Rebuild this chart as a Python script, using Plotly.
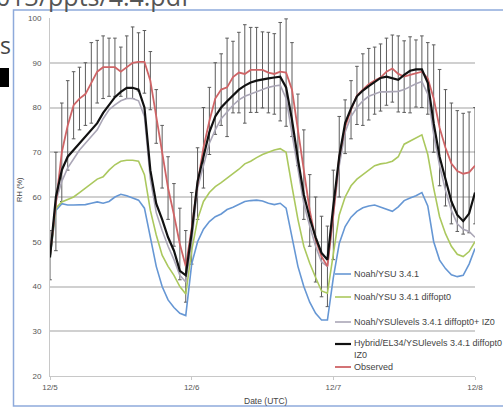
import plotly.graph_objects as go

# ---------------- data (hourly, 12/5 00 UTC .. 12/8 00 UTC) ----------------
hours = list(range(73))
day_ticks = [0, 24, 48, 72]
day_labels = ["12/5", "12/6", "12/7", "12/8"]
y_ticks = [20, 30, 40, 50, 60, 70, 80, 90, 100]

observed = [47, 59, 70, 76, 80.5, 82, 83, 85.5, 88, 89, 89, 89,
            88, 89, 90, 90.2, 90.2, 86, 78, 69, 62, 56, 49.5, 44.5,
            53, 63, 71, 77, 82, 84, 84.5, 86.8, 87.8, 87.5, 88.4, 88.4,
            88.4, 87.8, 87.5, 88, 87.8, 84, 75, 65, 57, 50.5, 46.7, 44.5,
            56, 69, 75.7, 79.5, 82.7, 84, 85.2, 86, 86.7, 88, 88.7, 87.5,
            86.9, 87.3, 87.6, 88, 86.5, 82, 75.5, 71, 67.5, 65.8, 65.2, 65.5,
            67]
obs_err = [5.5, 11, 11, 10, 7.5, 7, 7, 9, 7, 7, 6.5, 6.5,
           5.5, 7, 8, 6.5, 7, 6.5, 6, 7, 7, 7, 8, 8,
           8, 8, 9, 7.5, 8, 8, 11, 8, 9, 11, 9.5, 9.5,
           8.5, 9, 9, 11, 12, 10.5, 8, 10, 8, 9.5, 9, 9,
           10, 9, 6, 6.5, 6.5, 8, 8, 7.5, 7.5, 7.5, 7.5, 8.5,
           8, 8.5, 7.5, 8, 8, 12, 13, 13, 13.5, 13.5, 13.5, 13.5,
           13]
hybrid = [46.5, 60, 66, 69, 70.5, 72, 73.5, 75, 76.5, 78.8, 80.5, 82.3,
          83.5, 84.4, 84.4, 84, 80, 66, 58.5, 55, 51, 48, 43.5, 42.5,
          52, 63.5, 69, 74.5, 78, 80, 81.4, 82.8, 84, 84.9, 85.6, 86,
          86.3, 86.5, 86.7, 86.9, 84.5, 77.2, 68.5, 60.5, 55.3, 51, 47.5, 46,
          58, 69, 76.5, 79.8, 82.5, 83.8, 84.8, 85.7, 86.6, 86.9, 86.5, 86.2,
          87.3, 88.2, 88.5, 88.5, 85.5, 76.5, 69, 64, 59, 56, 54.6, 56.3,
          61]
levels_iz0 = [46.5, 59, 63.5, 66.5, 68.5, 70.5, 72, 73.5, 75, 77.5, 79.5, 80.6,
              81.5, 82, 82, 81.5, 78, 64, 56.5, 52.5, 49, 46, 42.5, 41,
              50, 62, 67, 72, 75, 77.5, 79, 80.5, 81.7, 82.5, 83, 83.5,
              84, 84.5, 84.8, 85, 82, 74, 66, 58.5, 53.5, 49, 45.5, 44.5,
              56, 67, 74.5, 78, 80, 81.5, 82.5, 83, 83.5, 83.5, 83.5, 83.6,
              84, 84.7, 85.3, 85.8, 83, 74, 67, 61.5, 57, 54, 52.8, 52.3,
              51]
diffopt0 = [46.5, 57.5, 58.9, 59.5, 60, 61, 62, 63.2, 64, 64.5, 66, 67.2,
            68, 68.2, 68.2, 68, 65, 57, 51.5, 47, 44.5, 42.5, 40, 38.3,
            48, 55, 59, 61, 62.3, 63.2, 64.2, 65, 66.2, 67.4, 68, 68.8,
            69.5, 70, 70.5, 70.8, 70, 62.3, 55, 49, 45.2, 42, 39, 38.5,
            47, 56, 60, 62.5, 64, 65, 66, 67, 67.4, 67.6, 68, 69,
            71.8, 72.5, 73.2, 73.9, 69.5, 62, 55.6, 51.8, 49, 47.2, 46.7, 47.8,
            50]
noah_ysu = [46.5, 57, 58.5, 58.2, 58.2, 58.2, 58.3, 58.6, 58.9, 58.6, 59, 60,
            60.6, 60.3, 59.8, 59.3, 57.5, 51, 44.5, 40, 37, 35.3, 34, 33.5,
            45, 50, 52.8, 54.5, 55.6, 56.2, 57.2, 57.7, 58.4, 59, 59.2, 59.3,
            59.1, 58.6, 58.3, 58.6, 57.5, 51, 44.5, 40, 36.5, 34, 32.5, 32.5,
            42, 49.6, 53.4, 55.5, 56.8, 57.6, 58, 58.2, 57.7, 57.2, 56.8, 57.8,
            59.2, 59.8, 60.3, 61, 58, 50, 45.9, 44, 42.6, 42.2, 42.5, 45,
            48.5]

names = ["Noah/YSU 3.4.1", "Noah/YSU 3.4.1 diffopt0",
         "Noah/YSUlevels 3.4.1 diffopt0+ IZ0",
         "Hybrid/EL34/YSUlevels 3.4.1 diffopt0<br>IZ0", "Observed"]
colors = ["#6697d4", "#abc85e", "#aaa6b6", "#111111", "#cf6466"]
widths = [1.6, 1.6, 1.6, 2.2, 1.8]

# ---------------- figure ----------------
W, H = 503, 407
L, R, T, B = 50, 28, 18, 31
pw, ph = W - L - R, H - T - B


def px(x):
    return (x - L) / pw


def py(y):
    return (H - B - y) / ph


fig = go.Figure()

# observed error bars
fig.add_trace(go.Scatter(
    x=hours, y=observed, mode="lines", line=dict(color="rgba(0,0,0,0)", width=0),
    error_y=dict(type="data", array=obs_err, visible=True, color="#5c5c5c",
                 thickness=1, width=1.8),
    showlegend=False, hoverinfo="skip"))

series = [noah_ysu, diffopt0, levels_iz0, observed, hybrid]
order = [0, 1, 2, 4, 3]
for idx, s in zip(order, series):
    fig.add_trace(go.Scatter(x=hours, y=s, mode="lines", name=names[idx],
                             line=dict(color=colors[idx], width=widths[idx]),
                             showlegend=False))

fig.update_layout(
    width=W, height=H,
    margin=dict(l=L, r=R, t=T, b=B, pad=0),
    paper_bgcolor="white", plot_bgcolor="white",
    font=dict(family="Liberation Sans, Arial, sans-serif", size=8, color="#555"),
    showlegend=False,
)
fig.update_xaxes(range=[0, 72], tickvals=day_ticks, ticktext=day_labels,
                 showgrid=False, zeroline=False, showline=True,
                 linecolor="#c8c8c8", linewidth=1, ticks="outside",
                 ticklen=3, tickcolor="#c8c8c8",
                 tickfont=dict(size=8, color="#555"))
fig.update_yaxes(range=[20, 100], tickvals=y_ticks, showgrid=True,
                 gridcolor="#d0d0d0", gridwidth=1.5, zeroline=False,
                 showline=True, linecolor="#c8c8c8", linewidth=1,
                 ticks="", ticklabelstandoff=6,
                 tickfont=dict(size=8, color="#555"))

annotations = [
    dict(text="RH (%)", x=px(19), y=py(190), textangle=-90,
         font=dict(size=7.5, color="#444")),
    dict(text="Date (UTC)", x=px(266), y=py(401),
         font=dict(size=8.5, color="#444")),
    dict(text="013/ppts/4.4.pdf", x=px(-6), y=py(15), xanchor="left", yanchor="bottom",
         font=dict(family="Open Sans, sans-serif", size=25, color="#555")),
    dict(text="s", x=px(-2), y=py(45), xanchor="left",
         font=dict(family="Open Sans, sans-serif", size=23, color="#444")),
]
for a in annotations:
    a.setdefault("xanchor", "center")
    a.setdefault("yanchor", "middle")
    a.update(xref="paper", yref="paper", showarrow=False)

shapes = [
    dict(type="rect", xref="paper", yref="paper", x0=px(0), x1=px(9),
         y0=py(87), y1=py(68), fillcolor="black", line=dict(width=0)),
    dict(type="rect", xref="paper", yref="paper", x0=px(13.5), x1=px(530),
         y0=py(406), y1=py(10), line=dict(color="#8eaadb", width=1.5),
         fillcolor="rgba(0,0,0,0)"),
]

leg_y = [274, 297, 322, 344, 367]
for i, yy in enumerate(leg_y):
    shapes.append(dict(type="line", xref="paper", yref="paper",
                       x0=px(335), x1=px(351), y0=py(yy), y1=py(yy),
                       line=dict(color=colors[i], width=widths[i])))
    annotations.append(dict(text=names[i], x=px(352), y=py(yy + (4.5 if i == 3 else 0)),
                            xref="paper", yref="paper", showarrow=False,
                            xanchor="left", yanchor="middle", align="left",
                            font=dict(size=9, color="#444")))

fig.update_layout(annotations=annotations, shapes=shapes)
fig.write_html("out.html", config={"displayModeBar": False},
               post_script="document.body.style.margin='0';document.body.style.overflow='hidden';")
